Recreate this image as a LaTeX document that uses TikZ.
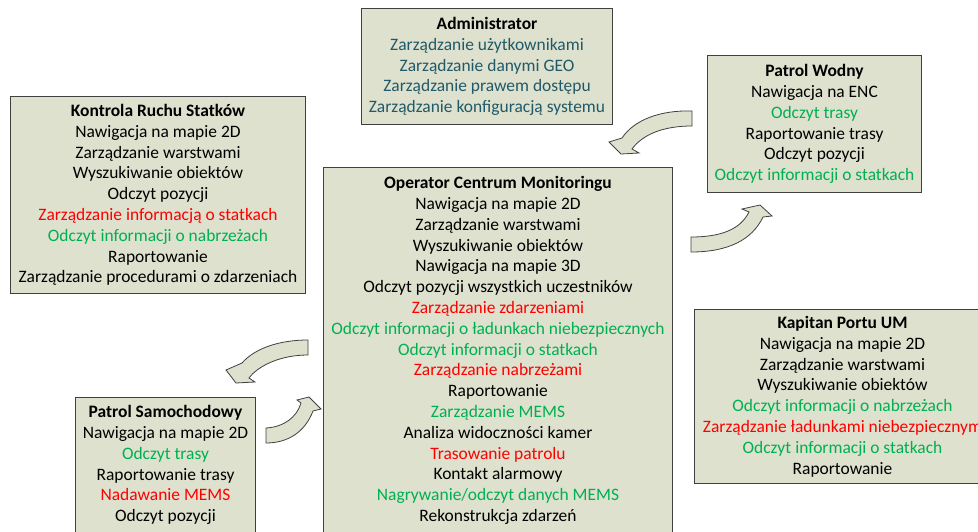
\documentclass[tikz,border=0pt]{standalone}
\usepackage{fontspec}
\setmainfont{Carlito}
\definecolor{boxfill}{RGB}{221,225,206}
\definecolor{boxline}{RGB}{64,64,64}
\definecolor{ored}{RGB}{255,0,0}
\definecolor{ogreen}{RGB}{0,176,80}
\definecolor{oteal}{RGB}{33,89,104}
\begin{document}
\begin{tikzpicture}[x=1pt,y=-1pt,
  rolebox/.style={draw=boxline, fill=boxfill, line width=1pt, align=center,
    inner sep=0pt, anchor=north west, font=\fontsize{17.45}{20.8}\selectfont},
  rarrow/.style={draw=boxline, fill=boxfill, line width=0.8pt, line join=miter}]
\useasboundingbox (0,0) rectangle (978,532);

\node[rolebox, minimum width=251, minimum height=116] (adm) at (361,8) {%
\textbf{Administrator}\\
\textcolor{oteal}{Zarządzanie użytkownikami}\\
\textcolor{oteal}{Zarządzanie danymi GEO}\\
\textcolor{oteal}{Zarządzanie prawem dostępu}\\
\textcolor{oteal}{Zarządzanie konfiguracją systemu}};

\node[rolebox, minimum width=295, minimum height=197] (krs) at (10,96) {%
\textbf{Kontrola Ruchu Statków}\\
Nawigacja na mapie 2D\\
Zarządzanie warstwami\\
Wyszukiwanie obiektów\\
Odczyt pozycji\\
\textcolor{ored}{Zarządzanie informacją o statkach}\\
\textcolor{ogreen}{Odczyt informacji o nabrzeżach}\\
Raportowanie\\
Zarządzanie procedurami o zdarzeniach};

\node[rolebox, minimum width=214, minimum height=137] (pw) at (707,55) {%
\textbf{Patrol Wodny}\\
Nawigacja na ENC\\
\textcolor{ogreen}{Odczyt trasy}\\
Raportowanie trasy\\
Odczyt pozycji\\
\textcolor{ogreen}{Odczyt informacji o statkach}};

\node[rolebox, minimum width=349, minimum height=366] (ocm) at (323,167) {%
\textbf{Operator Centrum Monitoringu}\\
Nawigacja na mapie 2D\\
Zarządzanie warstwami\\
Wyszukiwanie obiektów\\
Nawigacja na mapie 3D\\
Odczyt pozycji wszystkich uczestników\\
\textcolor{ored}{Zarządzanie zdarzeniami}\\
\textcolor{ogreen}{Odczyt informacji o ładunkach niebezpiecznych}\\
\textcolor{ogreen}{Odczyt informacji o statkach}\\
\textcolor{ored}{Zarządzanie nabrzeżami}\\
Raportowanie\\
\textcolor{ogreen}{Zarządzanie MEMS}\\
Analiza widoczności kamer\\
\textcolor{ored}{Trasowanie patrolu}\\
Kontakt alarmowy\\
\textcolor{ogreen}{Nagrywanie/odczyt danych MEMS}\\
Rekonstrukcja zdarzeń};

\node[rolebox, minimum width=296, minimum height=174] (kp) at (694,309) {%
\textbf{Kapitan Portu UM}\\
Nawigacja na mapie 2D\\
Zarządzanie warstwami\\
Wyszukiwanie obiektów\\
\textcolor{ogreen}{Odczyt informacji o nabrzeżach}\\
\textcolor{ored}{Zarządzanie ładunkami niebezpiecznym}\\
\textcolor{ogreen}{Odczyt informacji o statkach}\\
Raportowanie};

\node[rolebox, minimum width=180, minimum height=135] (ps) at (75,397) {%
\textbf{Patrol Samochodowy}\\
Nawigacja na mapie 2D\\
\textcolor{ogreen}{Odczyt trasy}\\
Raportowanie trasy\\
\textcolor{ored}{Nadawanie MEMS}\\
Odczyt pozycji};

% curved block arrows
\draw[rarrow] (692,111) .. controls (660,110) and (634,120) .. (622,138)
  -- (609,142) -- (621,154) -- (639,153) -- (632,149)
  .. controls (643,134) and (664,126) .. (692,126) -- cycle;

\draw[rarrow] (691,237) .. controls (720,237) and (740,230) .. (749,212)
  -- (742,209) -- (760,205) -- (772,216) -- (763,217)
  .. controls (752,240) and (728,252) .. (691,252) -- cycle;

\draw[rarrow] (308,340) .. controls (280,340) and (255,348) .. (242,363)
  -- (226,370) -- (236,383) -- (255,382) -- (249,378)
  .. controls (258,366) and (280,355) .. (308,355) -- cycle;

\draw[rarrow] (266,428) .. controls (284,427) and (297,417) .. (301,403)
  -- (297,400) -- (309,397) -- (321,409) -- (313,411)
  .. controls (305,432) and (288,443) .. (266,443) -- cycle;
\end{tikzpicture}
\end{document}
